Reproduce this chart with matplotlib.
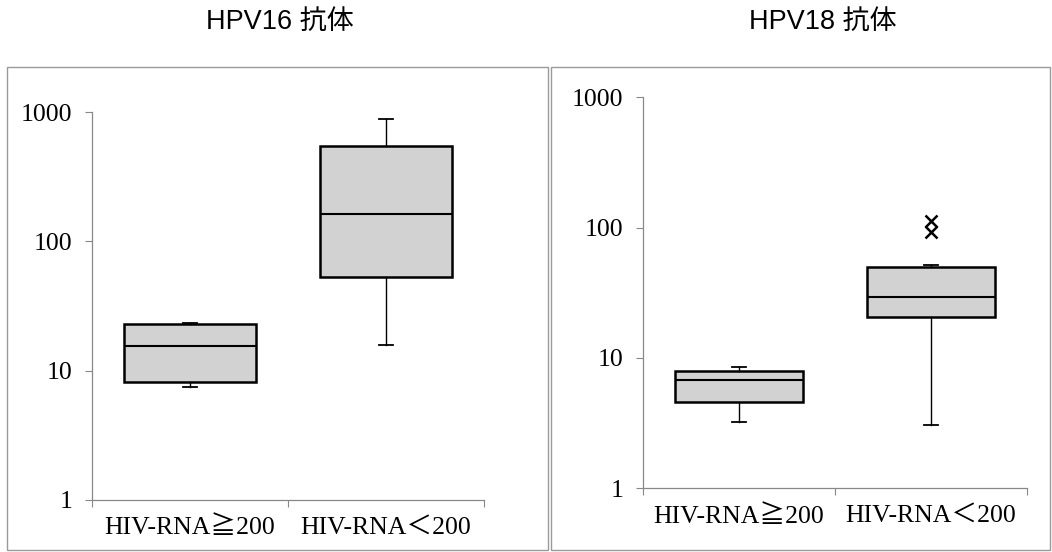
import matplotlib.pyplot as plt
from matplotlib.patches import Rectangle

# values (log scale)
groups = ["HIV-RNA≧200", "HIV-RNA＜200"]

hpv16_whislo = [7.5, 15.7]
hpv16_q1 = [8.2, 53]
hpv16_med = [15.5, 162]
hpv16_q3 = [23, 547]
hpv16_whishi = [23.5, 880]
hpv16_fliers = [[], []]

hpv18_whislo = [3.2, 3.05]
hpv18_q1 = [4.6, 20.7]
hpv18_med = [6.8, 29.6]
hpv18_q3 = [8.0, 49.9]
hpv18_whishi = [8.5, 51.4]
hpv18_fliers = [[], [112, 93]]

yticks = [1, 10, 100, 1000]
titles = ["HPV16 抗体", "HPV18 抗体"]

serif = ["Liberation Serif", "Noto Sans CJK JP"]
sans = ["Liberation Sans", "Noto Sans CJK JP"]

fig = plt.figure(figsize=(10.52, 5.52), dpi=100)

# panel frames (pixels -> figure fraction)
W, H = 1052, 552
for x0, x1 in [(7, 548), (551, 1050)]:
    fig.patches.append(Rectangle((x0 / W, 1 - 550 / H), (x1 - x0) / W, (550 - 67) / H,
                                 transform=fig.transFigure, fill=False,
                                 edgecolor="#9a9a9a", linewidth=1.0))

fig.text(280 / W, 1 - 22 / H, titles[0], ha="center", va="center", fontsize=19.5, family=sans)
fig.text(823 / W, 1 - 22 / H, titles[1], ha="center", va="center", fontsize=19.5, family=sans)

axes_pos = [[92 / W, 1 - 500 / H, 392 / W, 388 / H],
            [643 / W, 1 - 488.3 / H, 384 / W, 391 / H]]

panels = [
    (hpv16_whislo, hpv16_q1, hpv16_med, hpv16_q3, hpv16_whishi, hpv16_fliers),
    (hpv18_whislo, hpv18_q1, hpv18_med, hpv18_q3, hpv18_whishi, hpv18_fliers),
]

for pos, (lo, q1, med, q3, hi, fl) in zip(axes_pos, panels):
    ax = fig.add_axes(pos)
    stats = []
    for i in range(len(groups)):
        stats.append({"whislo": lo[i], "q1": q1[i], "med": med[i], "q3": q3[i],
                      "whishi": hi[i], "fliers": fl[i], "label": groups[i]})
    ax.bxp(stats, positions=[1, 2], widths=0.67, capwidths=0.075, patch_artist=True,
           boxprops=dict(facecolor="#d2d2d2", edgecolor="black", linewidth=1.8),
           medianprops=dict(color="black", linewidth=1.5),
           whiskerprops=dict(color="black", linewidth=1.0),
           capprops=dict(color="black", linewidth=1.3),
           flierprops=dict(marker="x", markersize=9, markeredgecolor="black",
                           markeredgewidth=1.8, linestyle="none"))
    ax.set_yscale("log")
    ax.set_ylim(1, 1000)
    ax.set_xlim(0.5, 2.5)
    ax.set_yticks(yticks)
    ax.set_yticklabels([str(t) for t in yticks], family=serif, fontsize=18.5)
    ax.minorticks_off()
    ax.set_xticks([0.5, 1.5, 2.5])
    ax.set_xticklabels([])
    ax.set_xticks([1, 2], minor=True)
    ax.set_xticklabels(groups, minor=True, family=serif, fontsize=18.5)
    ax.tick_params(axis="x", which="minor", length=0, pad=12)
    ax.tick_params(axis="x", which="major", length=5, color="#888888", direction="out")
    ax.tick_params(axis="y", length=5, color="#888888", pad=9)
    for s in ["top", "right"]:
        ax.spines[s].set_visible(False)
    for s in ["left", "bottom"]:
        ax.spines[s].set_color("#888888")
        ax.spines[s].set_linewidth(0.9)
    ax.patch.set_alpha(0)

fig.savefig("out.png", dpi=100)
